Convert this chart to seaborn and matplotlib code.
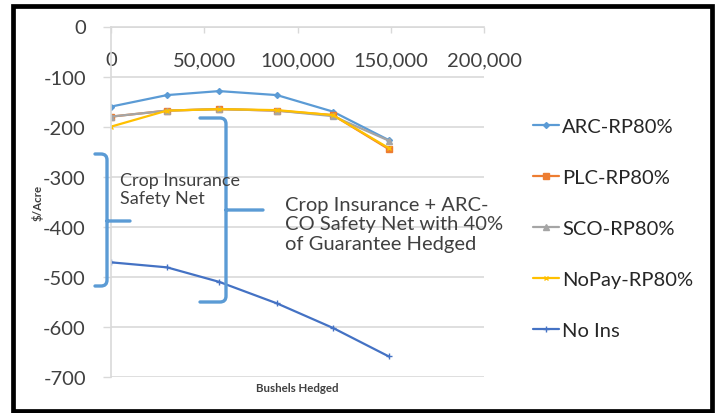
import matplotlib
matplotlib.use("Agg")
import matplotlib.pyplot as plt
import seaborn as sns
import pandas as pd
from matplotlib.path import Path
from matplotlib.patches import PathPatch, Rectangle
from matplotlib.ticker import FuncFormatter

# ---- data ----
bushels = [0, 30000, 58000, 89000, 119000, 149000]
arc = [-160, -137, -129, -137, -170, -227]
plc = [-180, -168, -165, -168, -177, -245]
sco = [-180, -168, -165, -168, -179, -228]
nopay = [-200, -168, -165, -167, -177, -243]
noins = [-471, -481, -510, -553, -602, -659]
series_names = ["ARC-RP80%", "PLC-RP80%", "SCO-RP80%", "NoPay-RP80%", "No Ins"]
series_values = [arc, plc, sco, nopay, noins]
colors = ["#5B9BD5", "#ED7D31", "#A5A5A5", "#FFC000", "#4472C4"]
markers = ["D", "s", "^", "x", "+"]
msizes = [3, 4, 4, 3, 4]
x_ticks = [0, 50000, 100000, 150000, 200000]
y_ticks = [0, -100, -200, -300, -400, -500, -600, -700]

W, H = 718, 414
sns.set_theme(style="white")
plt.rcParams["font.family"] = ["Lato", "DejaVu Sans"]
TXT = "#404040"

fig = plt.figure(figsize=(W / 100, H / 100), dpi=100)
ax = fig.add_axes([111 / W, 1 - 378 / H, 373 / W, 350.5 / H])

for name, vals, c, m, ms in zip(series_names, series_values, colors, markers, msizes):
    df = pd.DataFrame({"x": bushels, "y": vals})
    sns.lineplot(data=df, x="x", y="y", ax=ax, color=c, marker=m, markersize=ms,
                 markeredgecolor=c, markeredgewidth=1, linewidth=1.6, label=name)

ax.set_xlim(0, 200000)
ax.set_ylim(-700, 0)
ax.set_xticks(x_ticks)
ax.set_yticks(y_ticks)
ax.xaxis.set_major_formatter(FuncFormatter(lambda v, p: f"{int(v):,}"))
ax.yaxis.set_major_formatter(FuncFormatter(lambda v, p: f"{int(v)}"))

grid_c = "#D9D9D9"
ax.yaxis.grid(True, color=grid_c, linewidth=1.2)
ax.xaxis.grid(False)
for s in ["right", "top"]:
    ax.spines[s].set_visible(False)
ax.spines["bottom"].set_position(("data", 0))
ax.spines["bottom"].set_color(grid_c)
ax.spines["left"].set_color(grid_c)
ax.spines["bottom"].set_linewidth(1.2)
ax.spines["left"].set_linewidth(1.2)
ax.tick_params(axis="x", direction="out", length=4, width=1, color=grid_c,
               labelsize=14.5, labelcolor=TXT, pad=14, bottom=True)
ax.tick_params(axis="y", direction="out", length=6, width=1, color=grid_c,
               labelsize=14.5, labelcolor=TXT, pad=12, left=True)
ax.set_xlabel("")
ax.set_ylabel("")

fig.text(297 / W, 1 - 389 / H, "Bushels Hedged", ha="center", va="center",
         fontsize=8.3, fontweight="bold", color=TXT)
fig.text(38 / W, 1 - 203 / H, "$/Acre", ha="center", va="center", rotation=90,
         fontsize=8.3, fontweight="bold", color=TXT)

# annotation texts
fig.text(120 / W, 1 - 190 / H, "Crop Insurance\nSafety Net", ha="left", va="center",
         fontsize=13, color=TXT, linespacing=1.15)
fig.text(285 / W, 1 - 225 / H, "Crop Insurance + ARC-\nCO Safety Net with 40%\nof Guarantee Hedged",
         ha="left", va="center", fontsize=14.5, color=TXT, linespacing=1.15)

# brackets (pixel coordinates -> figure fraction)
def P(px, py):
    return (px / W, 1 - py / H)

def bracket(xl, xr, yt, yb, ym, xtip, r=6):
    verts = [P(xl, yt), P(xr - r, yt), P(xr, yt), P(xr, yt + r),
             P(xr, yb - r), P(xr, yb), P(xr - r, yb), P(xl, yb),
             P(xr, ym), P(xtip, ym)]
    codes = [Path.MOVETO, Path.LINETO, Path.CURVE3, Path.CURVE3,
             Path.LINETO, Path.CURVE3, Path.CURVE3, Path.LINETO,
             Path.MOVETO, Path.LINETO]
    patch = PathPatch(Path(verts, codes), transform=fig.transFigure, fill=False,
                      edgecolor="#5B9BD5", linewidth=2.4, capstyle="round",
                      joinstyle="round")
    fig.patches.append(patch)

bracket(95, 107, 155, 287, 222, 130)
bracket(200, 226, 119, 303, 211, 263)

# legend
leg = ax.legend(loc="center left", bbox_to_anchor=(533 / W, 1 - 229.5 / H),
                bbox_transform=fig.transFigure, frameon=False, fontsize=14.5,
                handlelength=1.3, handletextpad=0.15, labelspacing=1.68,
                borderpad=0, borderaxespad=0)
for t in leg.get_texts():
    t.set_color("#262626")

# outer frame
fig.patches.append(Rectangle((12.5 / W, 1 - 411.5 / H), 699 / W, 404.5 / H,
                             transform=fig.transFigure, fill=False,
                             edgecolor="black", linewidth=3.4))

fig.savefig("out.png", dpi=100)
